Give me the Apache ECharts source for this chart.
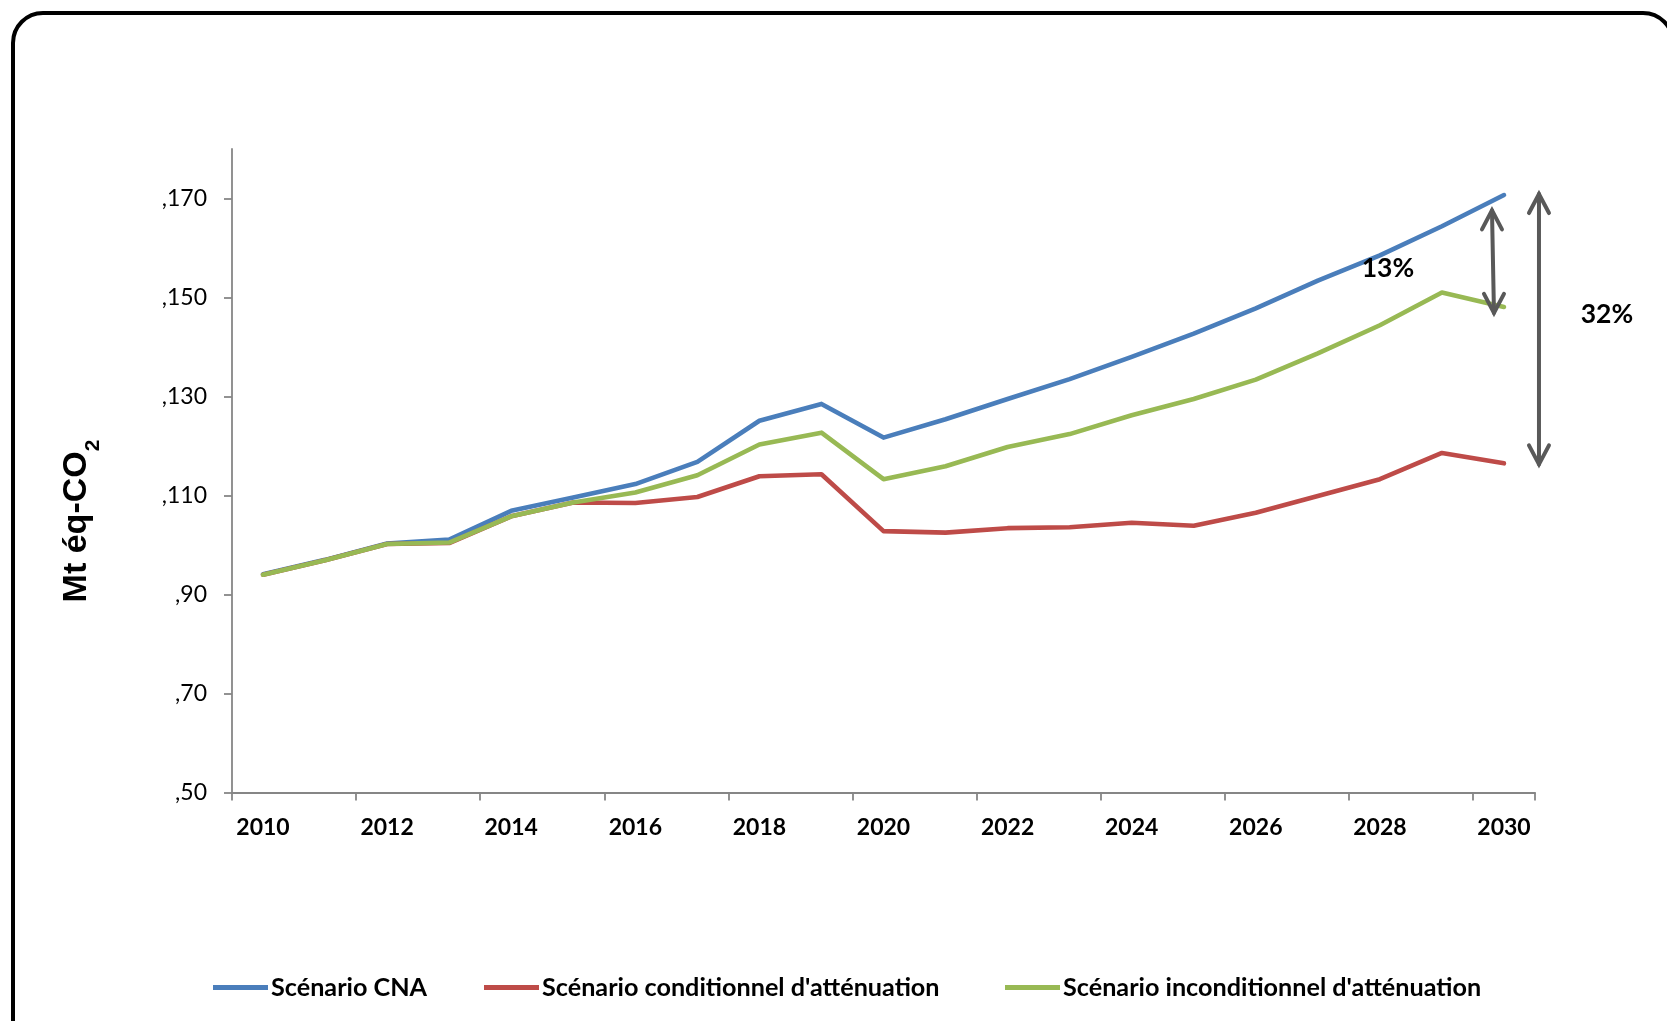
<!DOCTYPE html>
<html>
<head>
<meta charset="utf-8">
<script src="https://cdn.jsdelivr.net/npm/echarts@6/dist/echarts.min.js"></script>
<style>
html,body{margin:0;padding:0;background:#fff;}
#chart{width:1667px;height:1021px;}
</style>
</head>
<body>
<div id="chart"></div>
<script>
const years = ['2010','2011','2012','2013','2014','2015','2016','2017','2018','2019','2020','2021','2022','2023','2024','2025','2026','2027','2028','2029','2030'];
const seriesNames = ['Scénario CNA', "Scénario conditionnel d'atténuation", "Scénario inconditionnel d'atténuation"];
const cna = [94.1, 97.0, 100.3, 101.1, 106.9, 109.6, 112.3, 116.8, 125.1, 128.5, 121.7, 125.4, 129.5, 133.5, 138.0, 142.7, 147.8, 153.4, 158.5, 164.4, 170.7];
const conditionnel = [94.0, 96.9, 100.2, 100.4, 105.8, 108.6, 108.5, 109.7, 113.9, 114.3, 102.8, 102.5, 103.4, 103.6, 104.5, 103.9, 106.5, 109.9, 113.3, 118.6, 116.5];
const inconditionnel = [94.0, 96.9, 100.2, 100.5, 105.8, 108.6, 110.6, 114.1, 120.3, 122.7, 113.3, 115.9, 119.8, 122.4, 126.2, 129.5, 133.4, 138.7, 144.4, 151.0, 148.1];
const yTicks = [50, 70, 90, 110, 130, 150, 170];
const yTitle = ['Mt éq-CO', '2'];
const gapLabels = ['13%', '32%'];
const gap13 = [167.6, 146.9];
const gap32 = [170.9, 116.3];

const colors = ['#4A7EBB', '#BE4B48', '#98B954'];
const labelFont = 'Lato';

const chart = echarts.init(document.getElementById('chart'), null, {renderer: 'canvas'});

function lineSeries(name, data, color) {
  return {
    name: name, type: 'line', data: data, symbol: 'none', smooth: false,
    lineStyle: {color: color, width: 4.6, cap: 'round', join: 'round'},
    itemStyle: {color: color},
    emphasis: {disabled: true},
    animation: false
  };
}

function legendAt(name, left) {
  return {
    data: [name], left: left, top: 975, padding: 0, icon: 'rect', itemWidth: 55, itemHeight: 5, itemGap: 0,
    textStyle: {fontFamily: labelFont, fontWeight: 'bold', fontSize: 25.2, color: '#000', padding: [0,0,0,-2]},
    selectedMode: false
  };
}

const option = {
  backgroundColor: '#fff',
  animation: false,
  grid: {left: 232, right: 132, top: 149, bottom: 228.5, containLabel: false},
  legend: [
    legendAt(seriesNames[0], 213),
    legendAt(seriesNames[1], 484),
    legendAt(seriesNames[2], 1005)
  ],
  xAxis: {
    type: 'category', data: years, boundaryGap: true,
    axisLine: {show: true, lineStyle: {color: '#868686', width: 1.8}},
    axisTick: {show: true, interval: 1, length: 8, lineStyle: {color: '#868686', width: 1.8}},
    axisLabel: {interval: 1, margin: 24, fontFamily: labelFont, fontWeight: 'bold', fontSize: 23, color: '#000'},
    splitLine: {show: false}
  },
  yAxis: {
    type: 'value', min: 50, max: 180, interval: 20,
    axisLine: {show: true, lineStyle: {color: '#868686', width: 1.8}},
    axisTick: {show: true, length: 8, customValues: yTicks, lineStyle: {color: '#868686', width: 1.8}},
    axisLabel: {customValues: yTicks, margin: 25, fontFamily: labelFont, fontSize: 23, color: '#000',
      formatter: function (v) { return yTicks.indexOf(v) >= 0 ? ',' + v : ''; }},
    splitLine: {show: false}
  },
  series: [
    lineSeries(seriesNames[0], cna, colors[0]),
    lineSeries(seriesNames[1], conditionnel, colors[1]),
    lineSeries(seriesNames[2], inconditionnel, colors[2])
  ]
};
chart.setOption(option);

function yPx(v) { return chart.convertToPixel({yAxisIndex: 0}, v); }
const x2030 = chart.convertToPixel({xAxisIndex: 0}, '2030');
const arrowColor = '#595959';

function arrow(xTop, xBot, vTop, vBot) {
  const yt = yPx(vTop), yb = yPx(vBot);
  const hw = 10, hl = 19;
  return [
    {type: 'line', shape: {x1: xTop, y1: yt, x2: xBot, y2: yb}, style: {stroke: arrowColor, lineWidth: 4, lineCap: 'round'}, z: 100},
    {type: 'polyline', shape: {points: [[xTop - hw, yt + hl], [xTop, yt], [xTop + hw, yt + hl]]}, style: {stroke: arrowColor, lineWidth: 4, lineCap: 'round', lineJoin: 'miter', fill: null}, z: 100},
    {type: 'polyline', shape: {points: [[xBot - hw, yb - hl], [xBot, yb], [xBot + hw, yb - hl]]}, style: {stroke: arrowColor, lineWidth: 4, lineCap: 'round', lineJoin: 'miter', fill: null}, z: 100}
  ];
}

const graphics = [
  {type: 'rect', shape: {x: 13, y: 13, width: 1660, height: 1040, r: 30}, style: {fill: null, stroke: '#000', lineWidth: 4}, z: 0, silent: true},
  {type: 'text', x: 82, y: 521, rotation: Math.PI / 2, z: 100,
    style: {
      text: '{a|' + yTitle[0] + '}{b|' + yTitle[1] + '}', align: 'center', verticalAlign: 'middle',
      rich: {
        a: {fontFamily: 'Liberation Sans', fontWeight: 'bold', fontSize: 34, fill: '#000', lineHeight: 44, verticalAlign: 'top'},
        b: {fontFamily: 'Liberation Sans', fontWeight: 'bold', fontSize: 21, fill: '#000', lineHeight: 24, verticalAlign: 'bottom'}
      }
    }
  }
].concat(
  arrow(x2030 - 12, x2030 - 10, gap13[0], gap13[1]),
  arrow(x2030 + 35, x2030 + 35, gap32[0], gap32[1]),
  [
    {type: 'text', x: x2030 - 116, y: yPx(155.9), style: {text: gapLabels[0], fontFamily: labelFont, fontWeight: 'bold', fontSize: 26.5, fill: '#000', align: 'center', verticalAlign: 'middle'}, z: 100},
    {type: 'text', x: x2030 + 103, y: yPx(146.6), style: {text: gapLabels[1], fontFamily: labelFont, fontWeight: 'bold', fontSize: 26.5, fill: '#000', align: 'center', verticalAlign: 'middle'}, z: 100}
  ]
);
chart.setOption({graphic: graphics});
</script>
</body>
</html>
